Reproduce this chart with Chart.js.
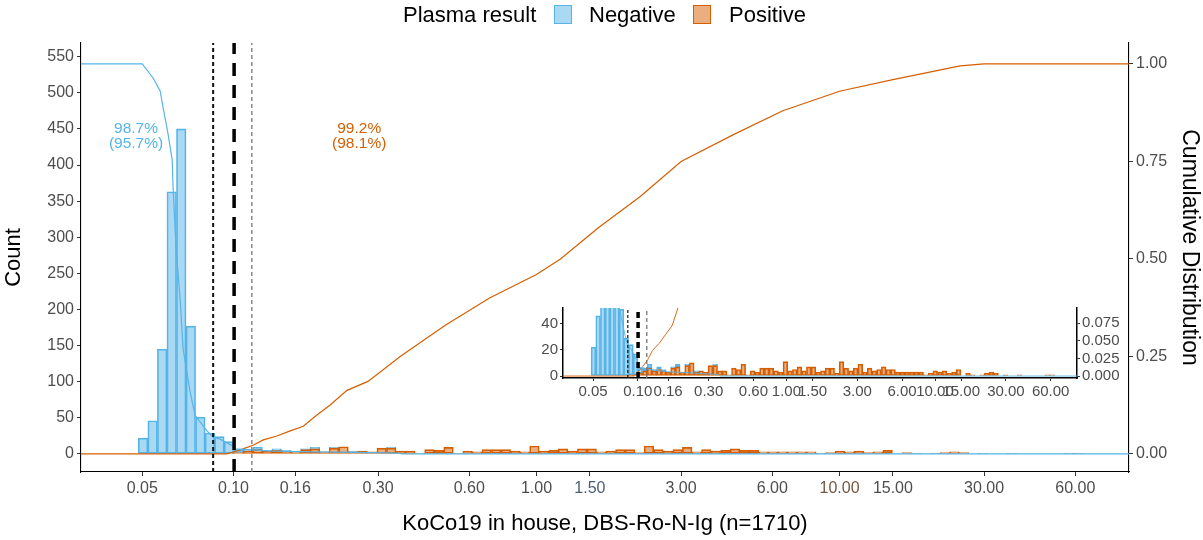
<!DOCTYPE html>
<html>
<head>
<meta charset="utf-8">
<script src="https://cdn.jsdelivr.net/npm/chart.js@4.4.1/dist/chart.umd.min.js"></script>
<style>
  html, body { margin: 0; padding: 0; background: #fff; }
  #wrap { position: relative; width: 1203px; height: 540px; }
  #wrap canvas { position: absolute; left: 0; top: 0; }
</style>
</head>
<body>
<div id="wrap">
  <canvas id="main" width="1203" height="540"></canvas>
  <canvas id="inset" width="1203" height="540"></canvas>
</div>
<script>
// ---- data ----
const xTicks = [0.05, 0.10, 0.16, 0.30, 0.60, 1.00, 1.50, 3.00, 6.00, 10.00, 15.00, 30.00, 60.00];
const countTicks = [0, 50, 100, 150, 200, 250, 300, 350, 400, 450, 500, 550];
const cdfTicks = [0, 0.25, 0.5, 0.75, 1];
const insetCountTicks = [0, 10, 20, 30, 40, 50];
const insetCdfTicks = [0, 0.025, 0.05, 0.075];

// histogram bins, equal width in log10 units
const binStartLog = -1.314;
const binWidthLog = 0.0315;

const negativeCounts = [
  22, 46, 145, 363, 450, 177, 51, 29, 23, 16, 4, 2, 3, 1, 2, 1, 0, 1, 2, 0,
  1, 0, 1, 0, 0, 0, 1, 0, 0, 0, 0, 0, 0, 0, 0, 0, 0, 0, 0, 0,
  0, 0, 0, 0, 0, 0, 0, 0, 0, 0, 0, 0, 0, 0, 0, 0, 0, 0, 0, 0,
  0, 0, 0, 0, 0, 0, 0, 0, 0, 0, 0, 0, 0, 0, 0, 0, 0, 0, 0, 0,
  0, 0, 0, 0, 0, 0, 0, 0, 0, 0, 0, 0, 0, 0, 0, 0, 0, 0, 0, 0
];
const positiveCounts = [
  0, 0, 0, 0, 0, 0, 0, 0, 1, 1, 2, 4, 6, 4, 5, 4, 3, 6, 7, 3,
  8, 10, 3, 4, 3, 8, 8, 4, 4, 1, 6, 5, 9, 1, 4, 3, 6, 6, 6, 4,
  3, 11, 4, 5, 7, 4, 7, 7, 3, 4, 6, 6, 2, 11, 6, 4, 6, 9, 3, 6,
  4, 5, 7, 5, 5, 3, 3, 3, 3, 3, 3, 1, 2, 4, 3, 4, 2, 3, 5, 0,
  2, 1, 0, 1, 2, 3, 2, 0, 1, 0, 0, 1, 0, 0, 0, 0, 0, 1, 1, 0
];

// x range of the panel
const xMin = 0.0314;
const xMax = 90.2;

// 1 - ECDF of negatives
const negCdfX = [xMin, 0.050, 0.0543, 0.0573, 0.0586, 0.0608, 0.0628, 0.0632, 0.0647, 0.0667, 0.0682,
  0.0719, 0.0747, 0.0818, 0.0857, 0.0903, 0.0998, 0.1005, 0.111, 0.13, 0.16, 0.25, 0.35, 0.36, xMax];
const negCdfY = [1, 1, 0.964, 0.931, 0.888, 0.822, 0.753, 0.684, 0.524, 0.397, 0.270,
  0.160, 0.099, 0.059, 0.043, 0.038, 0.020, 0.013, 0.011, 0.008, 0.006, 0.004, 0.002, 0, 0];

// ECDF of positives
const posCdfX = [xMin, 0.095, 0.0998, 0.1076, 0.1165, 0.1255, 0.139, 0.154, 0.170, 0.188, 0.208, 0.237,
  0.278, 0.355, 0.5, 0.7, 1.0, 1.2, 1.6, 2.2, 3.0, 4.5, 6.5, 10, 15, 25, 30, xMax];
const posCdfY = [0, 0, 0.005, 0.013, 0.023, 0.036, 0.046, 0.059, 0.071, 0.099, 0.125, 0.163,
  0.186, 0.25, 0.33, 0.40, 0.46, 0.50, 0.58, 0.66, 0.75, 0.82, 0.88, 0.93, 0.96, 0.995, 1, 1];

const cutoffs = [0.0857, 0.1005, 0.115];
const negNote = ['98.7%', '(95.7%)'];
const posNote = ['99.2%', '(98.1%)'];
const cdfPerCount = 540; // count that lines up with 1.00 on the right axis

// ---- helpers ----
const FONT = '"Liberation Sans", Arial, Helvetica, sans-serif';
const BLUE = '#56B4E9';
const ORANGE = '#D55E00';
const TICK_GREY = '#4d4d4d';

const binCenters = negativeCounts.map((_, i) => Math.pow(10, binStartLog + binWidthLog * (i + 0.5)));
const toXY = (xs, ys) => xs.map((x, i) => ({ x: x, y: ys[i] }));

function buildDatasets(yLo, yHi, thin) {
  const lw = thin ? 0.9 : 1.2;
  return [
    { type: 'line', data: [{ x: cutoffs[0], y: yLo }, { x: cutoffs[0], y: yHi }], yAxisID: 'y2',
      borderColor: '#111', borderWidth: thin ? 1.2 : 2, borderDash: thin ? [3, 2] : [4, 3], pointRadius: 0, order: 0 },
    { type: 'line', data: [{ x: cutoffs[1], y: yLo }, { x: cutoffs[1], y: yHi }], yAxisID: 'y2',
      borderColor: '#000', borderWidth: 3.5, borderDash: thin ? [6, 4] : [13, 9], pointRadius: 0, order: 0 },
    { type: 'line', data: [{ x: cutoffs[2], y: yLo }, { x: cutoffs[2], y: yHi }], yAxisID: 'y2',
      borderColor: '#777', borderWidth: 1.3, borderDash: [4, 3], pointRadius: 0, order: 0 },
    { type: 'line', data: toXY(negCdfX, negCdfY), yAxisID: 'y2', borderColor: BLUE, borderWidth: lw,
      pointRadius: 0, tension: 0, fill: false, order: 1 },
    { type: 'line', data: toXY(posCdfX, posCdfY), yAxisID: 'y2', borderColor: ORANGE, borderWidth: lw,
      pointRadius: 0, tension: 0, fill: false, order: 1 },
    { type: 'bar', label: 'Positive', data: toXY(binCenters, positiveCounts), yAxisID: 'y',
      backgroundColor: 'rgba(213,94,0,0.5)', borderColor: ORANGE, borderWidth: 1, borderSkipped: false,
      barPercentage: 1, categoryPercentage: 1, order: 5 },
    { type: 'bar', label: 'Negative', data: toXY(binCenters, negativeCounts), yAxisID: 'y',
      backgroundColor: 'rgba(86,180,233,0.5)', borderColor: BLUE, borderWidth: 1, borderSkipped: false,
      barPercentage: 1, categoryPercentage: 1, order: 6 }
  ];
}

function axisGrid(len) {
  return { display: true, offset: false, drawOnChartArea: false, drawTicks: true, tickLength: len,
    tickColor: '#333', tickWidth: 1 };
}

// the reference prints two of the x labels in a slightly tinted grey
function xLabelColor(ctx) {
  const v = ctx.tick ? ctx.tick.value : null;
  if (v === 1.5) return '#4a5f72';
  if (v === 10) return '#75573f';
  return TICK_GREY;
}

function buildScales(o) {
  return {
    x: {
      type: 'logarithmic', min: xMin, max: xMax, stacked: true, offset: false,
      afterBuildTicks: s => { s.ticks = xTicks.map(v => ({ value: v })); },
      afterFit: s => { s.height = o.xHeight; },
      grid: axisGrid(o.tick),
      border: { display: true, color: '#000', width: o.axisW },
      ticks: { autoSkip: false, maxRotation: 0, minRotation: 0, padding: o.pad,
        color: o.tint ? xLabelColor : TICK_GREY,
        font: { family: FONT, size: o.font }, callback: v => Number(v).toFixed(2) }
    },
    y: {
      type: 'linear', position: 'left', min: o.yMin, max: o.yMax, stacked: true,
      afterBuildTicks: s => { s.ticks = o.yTicks.map(v => ({ value: v })); },
      afterFit: s => { s.width = o.yWidth; },
      grid: axisGrid(o.tick),
      border: { display: true, color: '#000', width: o.axisW },
      ticks: { padding: o.pad, color: TICK_GREY, font: { family: FONT, size: o.font } }
    },
    y2: {
      type: 'linear', position: 'right', min: o.yMin / cdfPerCount, max: o.yMax / cdfPerCount,
      afterBuildTicks: s => { s.ticks = o.y2Ticks.map(v => ({ value: v })); },
      afterFit: s => { s.width = o.y2Width; },
      grid: axisGrid(o.tick),
      border: { display: true, color: '#000', width: o.axisW },
      ticks: { padding: o.pad, color: TICK_GREY, font: { family: FONT, size: o.font },
        callback: v => Number(v).toFixed(o.y2Digits) }
    }
  };
}

// titles, legend and percentage notes
const textPlugin = {
  id: 'textPlugin',
  afterDraw(chart) {
    const { ctx, chartArea, scales } = chart;
    ctx.save();
    ctx.textBaseline = 'middle';

    // legend
    ctx.font = '22px ' + FONT;
    ctx.fillStyle = '#000';
    ctx.textAlign = 'left';
    ctx.fillText('Plasma result', 403, 16);
    ctx.fillStyle = 'rgba(86,180,233,0.5)';
    ctx.fillRect(554, 5, 18, 19);
    ctx.strokeStyle = BLUE; ctx.lineWidth = 1;
    ctx.strokeRect(554.5, 5.5, 17, 18);
    ctx.fillStyle = '#000';
    ctx.fillText('Negative', 589, 16);
    ctx.fillStyle = 'rgba(213,94,0,0.5)';
    ctx.fillRect(693, 5, 18, 19);
    ctx.strokeStyle = ORANGE;
    ctx.strokeRect(693.5, 5.5, 17, 18);
    ctx.fillStyle = '#000';
    ctx.fillText('Positive', 729, 16);

    // axis titles
    ctx.textAlign = 'center';
    ctx.fillText('KoCo19 in house, DBS-Ro-N-Ig (n=1710)', (chartArea.left + chartArea.right) / 2, 524);
    const midY = (chartArea.top + chartArea.bottom) / 2;
    ctx.save();
    ctx.translate(14, midY);
    ctx.rotate(-Math.PI / 2);
    ctx.fillText('Count', 0, 0);
    ctx.restore();
    ctx.save();
    ctx.font = '23px ' + FONT;
    ctx.translate(1189, midY - 10);
    ctx.rotate(Math.PI / 2);
    ctx.fillText('Cumulative Distribution', 0, 0);
    ctx.restore();

    // percentage notes
    ctx.font = '15.5px ' + FONT;
    const nx = scales.x.getPixelForValue(0.0477), px = scales.x.getPixelForValue(0.26);
    const ny = scales.y.getPixelForValue(441);
    ctx.fillStyle = BLUE;
    ctx.fillText(negNote[0], nx, ny - 7);
    ctx.fillText(negNote[1], nx, ny + 8);
    ctx.fillStyle = ORANGE;
    ctx.fillText(posNote[0], px, ny - 7);
    ctx.fillText(posNote[1], px, ny + 8);
    ctx.restore();
  }
};

new Chart(document.getElementById('main'), {
  type: 'bar',
  data: { datasets: buildDatasets(-25 / cdfPerCount, 569 / cdfPerCount, false) },
  options: {
    responsive: false, animation: false,
    layout: { padding: { top: 43, left: 0, right: 0, bottom: 0 } },
    plugins: { legend: { display: false }, tooltip: { enabled: false } },
    scales: buildScales({ yMin: -25, yMax: 569, yTicks: countTicks, y2Ticks: cdfTicks, y2Digits: 2,
      xHeight: 68, yWidth: 81, y2Width: 74, tick: 4, pad: 3, font: 16, axisW: 1.1, tint: true })
  },
  plugins: [textPlugin]
});

// zoomed inset near the bottom
new Chart(document.getElementById('inset'), {
  type: 'bar',
  data: { datasets: buildDatasets(-1.5 / cdfPerCount, 52 / cdfPerCount, true) },
  options: {
    responsive: false, animation: false,
    layout: { padding: { top: 308, left: 533, right: 76, bottom: 140 } },
    plugins: { legend: { display: false }, tooltip: { enabled: false } },
    scales: buildScales({ yMin: -1.5, yMax: 52, yTicks: insetCountTicks, y2Ticks: insetCdfTicks, y2Digits: 3,
      xHeight: 22, yWidth: 30, y2Width: 50, tick: 3, pad: 2, font: 15, axisW: 1.5, tint: false })
  }
});
</script>
</body>
</html>
